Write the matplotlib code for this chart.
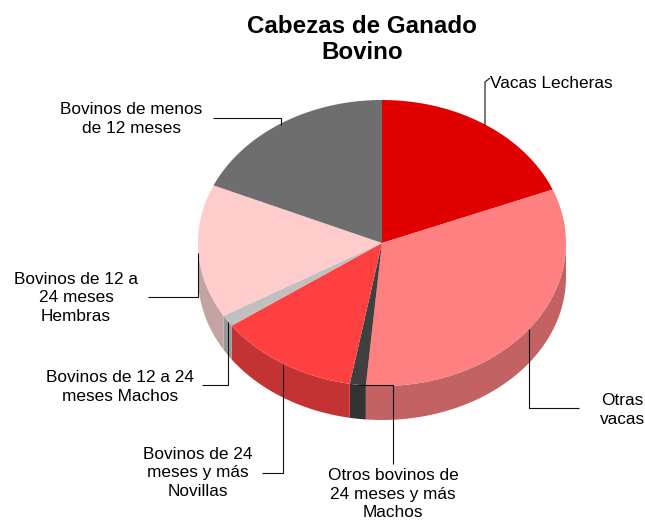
import numpy as np
import matplotlib
matplotlib.use('Agg')
import matplotlib.pyplot as plt

plt.rcParams['font.family'] = ['Liberation Sans', 'DejaVu Sans']

W, H = 645, 520

#Datos (porcentaje de cabezas)
categorias = ['Vacas Lecheras', 'Otras\nvacas', 'Otros bovinos de\n24 meses y más\nMachos',
              'Bovinos de 24\nmeses y más\nNovillas', 'Bovinos de 12 a 24\nmeses Machos',
              'Bovinos de 12 a\n24 meses\nHembras', 'Bovinos de menos\nde 12 meses']
valores = [18.9, 32.5, 1.4, 12.4, 1.3, 15.1, 18.4]
colores = ['#e10000', '#ff8080', '#404040', '#ff4040', '#c0c0c0', '#ffcccc', '#6e6e6e']
colores_lado = ['#aa0000', '#c26262', '#333333', '#c43333', '#999999', '#c4a3a3', '#555555']

cx, cy = 382, 243
rx, ry = 184, 143
prof = 34

fig = plt.figure(figsize=(W/100, H/100), dpi=100)
ax = fig.add_axes([0, 0, 1, 1])
ax.set_xlim(0, W)
ax.set_ylim(H, 0)
ax.axis('off')

#Angulos desde arriba en sentido horario
bordes = np.concatenate(([0], np.cumsum(valores))) / sum(valores) * 2*np.pi

def borde(a):
    return cx + rx*np.sin(a), cy - ry*np.cos(a)

#Pared lateral (solo la mitad delantera)
for i in range(len(valores)):
    a0 = max(bordes[i], np.pi/2)
    a1 = min(bordes[i+1], 3*np.pi/2)
    if a1 <= a0:
        continue
    t = np.linspace(a0, a1, 60)
    xs, ys = borde(t)
    px = np.concatenate((xs, xs[::-1]))
    py = np.concatenate((ys, ys[::-1] + prof))
    ax.fill(px, py, color=colores_lado[i], lw=0)

#Cara superior
for i in range(len(valores)):
    t = np.linspace(bordes[i], bordes[i+1], 100)
    xs, ys = borde(t)
    ax.fill(np.r_[cx, xs], np.r_[cy, ys], color=colores[i], lw=0)

#Lineas guia
guias = [[(485, 125), (485, 82), (490, 78)],
         [(529, 329), (529, 408), (579, 408)],
         [(358, 385), (393, 385), (393, 464)],
         [(283, 364), (283, 473), (262, 473)],
         [(228, 322), (228, 385), (202, 385)],
         [(198, 253), (198, 297), (148, 297)],
         [(281, 125), (281, 118), (213, 118)]]
for g in guias:
    g = np.array(g)
    ax.plot(g[:, 0], g[:, 1], color='#111111', lw=0.8, solid_capstyle='butt')

#Textos
pos_texto = [(490, 83, 'left'), (622, 410, 'center'), (393, 494, 'center'), (198, 473, 'center'),
             (120, 387, 'center'), (76, 298, 'center'), (131, 119, 'center')]
for nombre, (x, y, ha) in zip(categorias, pos_texto):
    ax.text(x, y, nombre, ha=ha, va='center', fontsize=12.4, linespacing=1.3, color='black')

ax.text(362, 39.5, 'Cabezas de Ganado\nBovino', ha='center', va='center', fontsize=17.4,
        fontweight='bold', linespacing=1.18, color='black')

fig.savefig('out.png', dpi=100)
